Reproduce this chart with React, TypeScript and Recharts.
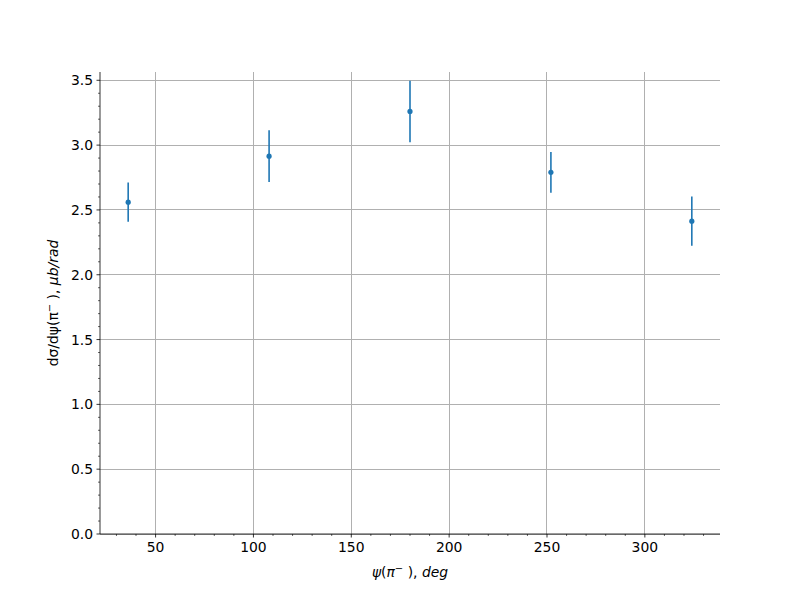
import React from 'react';
import { ComposedChart, Scatter, ErrorBar, XAxis, YAxis, CartesianGrid } from 'recharts';

const psiDeg = [36, 108, 180, 252, 324];
const dsigma = [2.56, 2.915, 3.26, 2.79, 2.413];
const dsigmaErr = [0.152, 0.2, 0.237, 0.157, 0.19];

const xMajorTicks = [50, 100, 150, 200, 250, 300];
const yMajorTicks = [0, 0.5, 1.0, 1.5, 2.0, 2.5, 3.0, 3.5];
const yTickLabels = ['0.0', '0.5', '1.0', '1.5', '2.0', '2.5', '3.0', '3.5'];
const xMinorTicks = Array.from({ length: 31 }, (_, i) => 30 + i * 10);
const yMinorTicks = Array.from({ length: 36 }, (_, i) => Math.round(i * 10) / 100);

const xDomain = [21.6, 338.4];
const yDomain = [0, 3.564];

const data = psiDeg.map((x, i) => ({ x, y: dsigma[i], err: dsigmaErr[i] }));

const FONT = 'DejaVu Sans, sans-serif';
const FS = 13.9;
const BLUE = '#1f77b4';

const isMajor = (v: number, majors: number[]) => majors.some((m) => Math.abs(m - v) < 1e-6);

const XTick = (props: any) => {
  const { x, y, payload } = props;
  const v = payload.value;
  const major = isMajor(v, xMajorTicks);
  return (
    <g>
      <line x1={x} x2={x} y1={y} y2={y + (major ? 3.5 : 2)} stroke="#000" strokeWidth={major ? 0.8 : 0.6} />
      {major && (
        <text x={x} y={y + 7} dy="0.76em" textAnchor="middle" fontFamily={FONT} fontSize={FS} fill="#000">
          {String(v)}
        </text>
      )}
    </g>
  );
};

const YTick = (props: any) => {
  const { x, y, payload } = props;
  const v = payload.value;
  const idx = yMajorTicks.findIndex((m) => Math.abs(m - v) < 1e-6);
  const major = idx >= 0;
  return (
    <g>
      <line x1={x - (major ? 3.5 : 2)} x2={x} y1={y} y2={y} stroke="#000" strokeWidth={major ? 0.8 : 0.6} />
      {major && (
        <text x={x - 7} y={y} dy="0.36em" textAnchor="end" fontFamily={FONT} fontSize={FS} fill="#000">
          {yTickLabels[idx]}
        </text>
      )}
    </g>
  );
};

const XLabel = () => (
  <text x={410} y={577} textAnchor="middle" fontFamily={FONT} fontSize={FS} fill="#000">
    <tspan fontStyle="italic">ψ</tspan>
    <tspan>(</tspan>
    <tspan fontStyle="italic">π</tspan>
    <tspan dy={-5} fontSize={10}>−</tspan>
    <tspan dy={5}> ), </tspan>
    <tspan fontStyle="italic">deg</tspan>
  </text>
);

const YLabel = () => (
  <text
    x={0}
    y={0}
    transform="translate(58,303) rotate(-90)"
    textAnchor="middle"
    fontFamily={FONT}
    fontSize={FS}
    fill="#000"
  >
    <tspan>dσ/dψ(π</tspan>
    <tspan dy={-5} fontSize={10}>−</tspan>
    <tspan dy={5}> ), </tspan>
    <tspan fontStyle="italic">μb/rad</tspan>
  </text>
);

const Dot = (props: any) => {
  const { cx, cy } = props;
  return <circle cx={cx} cy={cy} r={2.6} fill={BLUE} />;
};

const vGrid = ({ offset }: any) =>
  xMajorTicks.map((v) => offset.left + ((v - xDomain[0]) / (xDomain[1] - xDomain[0])) * offset.width);
const hGrid = ({ offset }: any) =>
  yMajorTicks.map((v) => offset.top + offset.height - ((v - yDomain[0]) / (yDomain[1] - yDomain[0])) * offset.height);

export default function App() {
  return (
    <div style={{ position: 'absolute', left: 0, top: 0, width: 800, height: 600, background: '#fff' }}>
      <ComposedChart width={800} height={600} data={data} margin={{ top: 72, right: 80, bottom: 36, left: 40 }}>
        <CartesianGrid
          stroke="#b0b0b0"
          strokeWidth={1}
          shapeRendering="crispEdges"
          verticalCoordinatesGenerator={vGrid}
          horizontalCoordinatesGenerator={hGrid}
        />
        <XAxis
          dataKey="x"
          type="number"
          domain={xDomain}
          allowDataOverflow
          ticks={xMinorTicks}
          interval={0}
          tick={<XTick />}
          tickLine={false}
          tickSize={0}
          tickMargin={0}
          height={30}
          stroke="#000"
          strokeWidth={0.8}
          label={<XLabel />}
        />
        <XAxis
          xAxisId="top"
          orientation="top"
          type="number"
          domain={xDomain}
          allowDataOverflow
          tick={false}
          tickLine={false}
          height={0}
          stroke="#000"
          strokeWidth={0.8}
        />
        <YAxis
          dataKey="y"
          type="number"
          domain={yDomain}
          allowDataOverflow
          ticks={yMinorTicks}
          interval={0}
          tick={<YTick />}
          tickLine={false}
          tickSize={0}
          tickMargin={0}
          width={60}
          stroke="#000"
          strokeWidth={0.8}
          label={<YLabel />}
        />
        <YAxis
          yAxisId="right"
          orientation="right"
          type="number"
          domain={yDomain}
          allowDataOverflow
          tick={false}
          tickLine={false}
          width={0}
          stroke="#000"
          strokeWidth={0.8}
        />
        <Scatter dataKey="y" fill={BLUE} shape={<Dot />} isAnimationActive={false}>
          <ErrorBar dataKey="err" direction="y" width={0} stroke={BLUE} strokeWidth={1.6} />
        </Scatter>
      </ComposedChart>
    </div>
  );
}
